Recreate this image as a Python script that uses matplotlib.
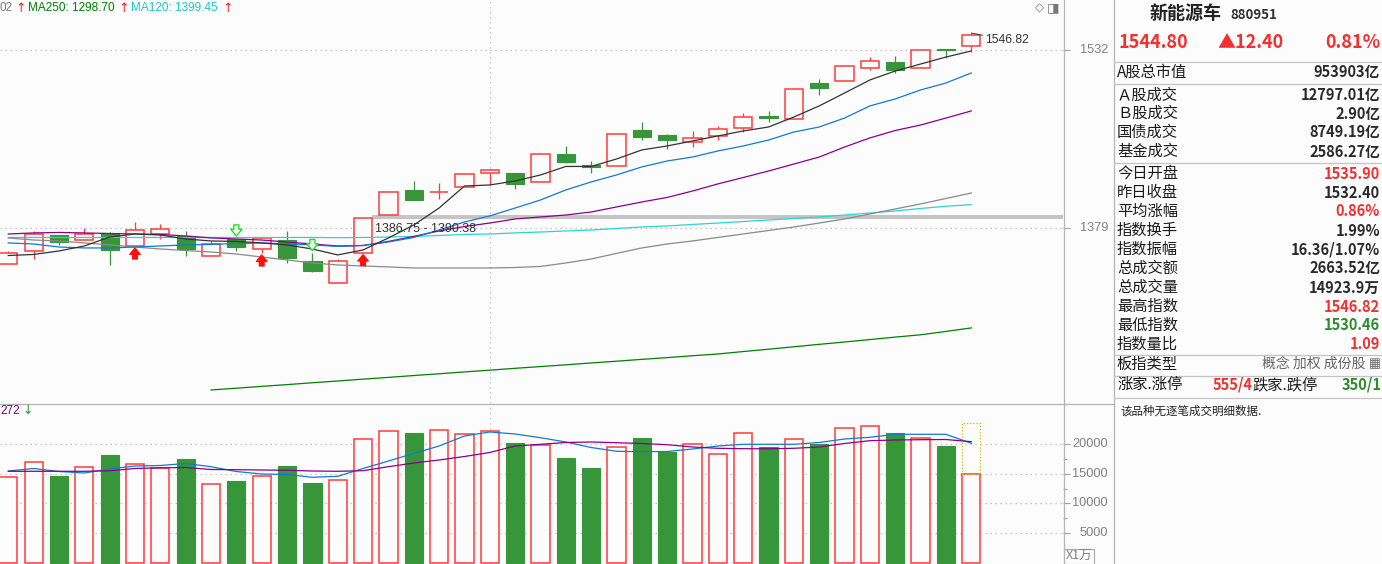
import matplotlib
matplotlib.use('Agg')
import matplotlib.pyplot as plt
import matplotlib.transforms as mtrans
from matplotlib.lines import Line2D
from matplotlib.patches import Rectangle
import numpy as np

plt.rcParams['font.family'] = ['Liberation Sans', 'DejaVu Sans']
CJK = ['Noto Sans CJK SC', 'DejaVu Sans']

# ---------------- data ----------------
opens = [1348.0, 1359.9, 1373.3, 1369.3, 1374.7, 1363.9, 1374.1, 1372.8, 1355.3, 1369.6,
         1361.3, 1368.8, 1350.8, 1332.0, 1358.2, 1390.7, 1412.3, 1410.3, 1414.6, 1426.6,
         1426.3, 1418.9, 1443.1, 1433.5, 1432.6, 1463.6, 1459.4, 1453.1, 1458.2, 1465.1,
         1475.6, 1473.3, 1503.8, 1505.2, 1517.2, 1521.7, 1516.9, 1533.3, 1535.90]
highs = [1359.4, 1376.4, 1373.6, 1379.6, 1375.9, 1384.4, 1382.4, 1376.4, 1368.5, 1370.0,
         1370.7, 1376.4, 1357.5, 1353.0, 1387.6, 1410.6, 1420.0, 1417.7, 1425.8, 1430.0,
         1426.3, 1444.0, 1449.9, 1437.1, 1459.9, 1470.5, 1460.5, 1462.8, 1466.8, 1478.2,
         1479.9, 1498.4, 1507.0, 1518.1, 1526.0, 1527.1, 1532.6, 1533.3, 1546.82]
lows = [1348.0, 1352.3, 1365.1, 1369.3, 1347.4, 1363.9, 1369.9, 1355.3, 1355.3, 1359.6,
        1357.9, 1349.3, 1341.7, 1332.0, 1358.2, 1390.7, 1403.2, 1404.1, 1414.6, 1416.6,
        1412.6, 1418.9, 1434.8, 1426.8, 1432.6, 1454.8, 1447.6, 1448.5, 1455.3, 1462.2,
        1470.7, 1473.3, 1493.3, 1505.2, 1515.2, 1512.3, 1516.9, 1525.4, 1530.46]
closes = [1358.2, 1373.9, 1367.0, 1373.9, 1360.8, 1377.9, 1378.8, 1361.3, 1365.9, 1362.8,
          1370.7, 1353.6, 1342.5, 1350.8, 1387.6, 1410.6, 1403.2, 1410.6, 1425.8, 1429.2,
          1417.5, 1442.9, 1435.7, 1431.7, 1459.9, 1457.9, 1455.3, 1456.8, 1464.2, 1474.5,
          1474.1, 1498.4, 1499.8, 1518.1, 1523.2, 1515.2, 1532.6, 1532.40, 1544.80]

ma5 = [1355.7, 1356.6, 1359.6, 1363.9, 1371.6, 1374.2, 1373.3, 1369.9, 1368.2, 1367.8,
       1366.5, 1364.8, 1361.3, 1356.2, 1360.5, 1370.8, 1381.9, 1396.5, 1415.4, 1416.3,
       1419.7, 1424.9, 1432.2, 1432.2, 1438.6, 1446.4, 1449.8, 1454.1, 1458.4, 1462.7,
       1466.1, 1474.7, 1484.2, 1495.3, 1506.5, 1514.2, 1520.2, 1526.2, 1531.4]
ma10 = [1366.5, 1365.6, 1363.0, 1362.2, 1362.2, 1363.0, 1363.9, 1364.8, 1365.2, 1366.0,
        1366.5, 1365.6, 1364.8, 1363.5, 1364.3, 1367.3, 1371.2, 1377.6, 1384.5, 1389.7,
        1396.5, 1403.4, 1412.0, 1418.9, 1424.9, 1431.8, 1436.9, 1440.3, 1445.5, 1449.8,
        1454.9, 1461.8, 1466.1, 1473.8, 1484.2, 1490.2, 1497.9, 1503.9, 1512.5]
ma20 = [1374.2, 1375.1, 1375.5, 1375.1, 1374.6, 1374.2, 1373.8, 1372.5, 1370.8, 1369.9,
        1369.0, 1367.3, 1365.6, 1363.9, 1364.3, 1367.8, 1372.1, 1376.8, 1380.6, 1383.6,
        1387.1, 1388.8, 1390.5, 1393.1, 1397.4, 1401.7, 1405.6, 1411.1, 1417.2, 1422.7,
        1428.3, 1434.3, 1440.3, 1448.9, 1456.7, 1463.1, 1467.8, 1473.8, 1479.9]
ma60 = [1370.8, 1369.0, 1368.2, 1366.5, 1364.8, 1363.0, 1361.3, 1360.0, 1358.7, 1357.0,
        1354.4, 1351.9, 1349.3, 1347.6, 1346.7, 1345.9, 1345.0, 1345.0, 1345.0, 1345.0,
        1345.4, 1346.3, 1349.3, 1352.7, 1357.5, 1362.2, 1365.6, 1368.2, 1371.2, 1374.2,
        1377.2, 1380.2, 1383.6, 1387.1, 1391.4, 1395.7, 1400.0, 1404.7, 1409.4]
ma120 = [1371.2, 1371.2, 1371.2, 1371.2, 1371.2, 1371.2, 1371.2, 1371.2, 1371.2, 1371.2,
         1371.2, 1371.2, 1371.2, 1371.0, 1371.2, 1371.6, 1372.1, 1372.9, 1373.8, 1374.2,
         1375.1, 1375.9, 1376.8, 1377.6, 1378.9, 1380.2, 1381.1, 1382.4, 1383.6, 1384.9,
         1386.2, 1387.5, 1388.8, 1390.5, 1392.2, 1394.0, 1396.1, 1398.0, 1399.45]
ma250_start = 8
ma250 = [1240.2, 1241.7, 1243.3, 1244.8, 1246.4, 1247.9, 1249.5, 1251.0, 1252.6, 1254.1,
         1255.7, 1257.2, 1258.8, 1260.3, 1261.8, 1263.4, 1264.9, 1266.5, 1268.0, 1269.6,
         1271.1, 1273.2, 1275.2, 1277.3, 1279.4, 1281.4, 1283.5, 1285.6, 1287.6, 1290.5,
         1293.5]

volumes = [14390, 16917, 14609, 16075, 18147, 16580, 15957, 17473, 13210, 13766,
           14558, 16294, 13429, 13884, 20793, 22141, 21854, 22309, 21635, 22141,
           20169, 19832, 17642, 15957, 19445, 21012, 18602, 19950, 18265, 21804,
           19546, 20793, 20001, 22646, 22983, 21854, 21012, 19664, 14924]
vol_projected = 23490
vol_ma5 = [15451, 15873, 15367, 15114, 15788, 16294, 16378, 16715, 16176, 15367,
           14946, 14862, 14390, 14558, 15873, 17136, 18400, 19664, 21349, 22023,
           21686, 21063, 20338, 19411, 18771, 18704, 18737, 19158, 19664, 19950,
           19950, 19950, 20254, 20843, 21130, 21635, 21635, 21635, 20119]
vol_ma10 = [15401, 15401, 15401, 15401, 15485, 15873, 15991, 16041, 15704, 15671,
            15620, 15569, 15451, 15401, 15502, 16176, 16799, 17305, 17895, 18569,
            19664, 19950, 20254, 20338, 20220, 20085, 19883, 19495, 19276, 19209,
            19192, 19276, 19495, 20085, 20557, 20675, 20726, 20759, 20389]

buy_signals = [5, 10, 14]
sell_signals = [9, 12]
cursor_index = 19
zone_low, zone_high, zone_start = 1386.75, 1390.38, 14

price_ticks = [1532, 1379]
vol_ticks = [20000, 15000, 10000, 5000]
vol_minor = [17500, 12500, 7500]

panel_name, panel_code = '新能源车', '880951'
panel_price, panel_change, panel_pct = '1544.80', '▲12.40', '0.81%'
panel_labels = ['A股总市值', 'Ａ股成交', 'Ｂ股成交', '国债成交', '基金成交',
                '今日开盘', '昨日收盘', '平均涨幅', '指数换手', '指数振幅',
                '总成交额', '总成交量', '最高指数', '最低指数', '指数量比']
panel_values = ['953903亿', '12797.01亿', '2.90亿', '8749.19亿', '2586.27亿',
                '1535.90', '1532.40', '0.86%', '1.99%', '16.36/1.07%',
                '2663.52亿', '14923.9万', '1546.82', '1530.46', '1.09']
panel_kinds = ['n', 'n', 'n', 'n', 'n', 'r', 'n', 'r', 'n', 'n', 'n', 'n', 'r', 'g', 'r']

# ---------------- style ----------------
W, H = 1382, 564
BG = '#fcfcfc'
RED = '#ff3b3b'
GREEN = '#37963a'
TXT = '#2a2a2a'
GRID = '#b8b8b8'
BORDER = '#b4b4b4'
kind_color = {'n': TXT, 'r': '#f23030', 'g': '#2e8b2e'}

fig = plt.figure(figsize=(W / 100, H / 100), dpi=100)
fig.patch.set_facecolor(BG)

def fx(px):
    return px / W

def fy(py):
    return 1 - py / H

SEP = 403
XR = 1063
ax = fig.add_axes([0, fy(SEP), fx(XR), SEP / H])
axv = fig.add_axes([0, 0, fx(XR), (H - SEP) / H])
for a in (ax, axv):
    a.set_facecolor(BG)
    for s in a.spines.values():
        s.set_visible(False)
    a.set_xticks([])

n = len(closes)
x = np.arange(n)
o = np.array(opens); c = np.array(closes); hi = np.array(highs); lo = np.array(lows)
up = c >= o
xmin, xmax = -0.3276, 41.62
ax.set_xlim(xmin, xmax)
axv.set_xlim(xmin, xmax)
ax.set_ylim(1229.0, 1575.2)
axv.set_ylim(-219, 26909)

# grid
for v in price_ticks:
    ax.axhline(v, color=GRID, lw=0.9, ls=(0, (1, 3)), zorder=1)
for v in vol_ticks:
    axv.axhline(v, color=GRID, lw=0.9, ls=(0, (1, 3)), zorder=1)
ax.axvline(cursor_index, color=GRID, lw=0.9, ls=(0, (1, 3)), zorder=1)
axv.axvline(cursor_index, color=GRID, lw=0.9, ls=(0, (1, 3)), zorder=1)

# zone band
zx = (zone_start + 0.36 - xmin) / (xmax - xmin)
ax.axhspan(zone_low, zone_high, xmin=zx, xmax=1, color='#c4c4c4', lw=0, zorder=2)
ax.annotate(f'{zone_low:.2f} - {zone_high:.2f}', xy=(zone_start + 0.36, zone_low),
            xytext=(3, -10), textcoords='offset pixels', ha='left', va='center',
            fontsize=9, color='#333333', zorder=6)

# candles
body_lo = np.minimum(o, c)
body_hi = np.maximum(o, c)
hgt = np.maximum(body_hi - body_lo, 0.3)
cols = np.where(up, RED, GREEN)
ax.vlines(x, body_hi, hi, color=cols, lw=0.9, zorder=3)
ax.vlines(x, lo, body_lo, color=cols, lw=0.9, zorder=3)
ax.bar(x[up], hgt[up], bottom=body_lo[up], width=0.72, facecolor=BG,
       edgecolor=RED, lw=1.1, zorder=3)
ax.bar(x[~up], hgt[~up], bottom=body_lo[~up], width=0.72, facecolor=GREEN,
       edgecolor=GREEN, lw=0.8, zorder=3)

# moving averages
ax.plot(x, ma120, color='#2ad4d4', lw=0.9, zorder=4)
ax.plot(x, ma60, color='#8a8a8a', lw=0.9, zorder=4)
ax.plot(x[ma250_start:], ma250, color='#008000', lw=0.9, zorder=4)
ax.plot(x, ma20, color='#8b008b', lw=0.9, zorder=4)
ax.plot(x, ma10, color='#1479d0', lw=0.9, zorder=4)
ax.plot(x, ma5, color='#333333', lw=0.9, zorder=4)

# signals
arrow_style = 'simple,head_length=0.38,head_width=0.62,tail_width=0.28'
for i in buy_signals:
    ax.annotate('', xy=(i, lo[i]), xytext=(0, -13), textcoords='offset pixels',
                arrowprops=dict(arrowstyle=arrow_style, mutation_scale=12,
                                color='#ff1010', shrinkA=0, shrinkB=1.5),
                zorder=5)
for i in sell_signals:
    ax.annotate('', xy=(i, hi[i]), xytext=(0, 14), textcoords='offset pixels',
                arrowprops=dict(arrowstyle=arrow_style, mutation_scale=13,
                                facecolor=BG, edgecolor='#22e022', lw=1.0,
                                shrinkA=0, shrinkB=2),
                zorder=5)

# high label
ax.annotate(f'{highs[-1]:.2f}', xy=(n - 1, highs[-1]), xytext=(14, -7),
            textcoords='offset pixels', ha='left', va='center', fontsize=8.8,
            color='#333333', zorder=6,
            arrowprops=dict(arrowstyle='-', color='#333333', lw=0.7, shrinkA=0, shrinkB=0))

# price axis ticks/labels
ax.yaxis.tick_right()
ax.set_yticks(price_ticks)
ax.tick_params(axis='y', direction='out', length=5, width=0.8, color='#a0a0a0',
               labelright=False)
tr = mtrans.blended_transform_factory(ax.transAxes, ax.transData)
for v in price_ticks:
    ax.text(1108 / XR, v, f'{v}', transform=tr, ha='right', va='center',
            fontsize=9.2, color='#808080', clip_on=False)

# legend row
legend_items = [('02', '#808080', 0), ('MA250: 1298.70', '#008000', 28),
                ('MA120: 1399.45', '#20c8c8', 131)]
arrow_pos = [15, 118, 222]
for (t, col, px), apx in zip(legend_items, arrow_pos):
    fig.text(fx(px), fy(8), t, color=col, fontsize=8.5, va='center', ha='left')
    fig.text(fx(apx), fy(8), '↑', color='#ff2020', fontsize=9, va='center', ha='left',
             family=['DejaVu Sans'])
fig.text(fx(1035), fy(8), '◇', color='#777777', fontsize=8.5, va='center', ha='left',
         family=['DejaVu Sans'])
fig.text(fx(1047), fy(8), '◨', color='#777777', fontsize=9.5, va='center', ha='left',
         family=['DejaVu Sans'])

# volume
vol = np.array(volumes)
axv.bar(x[up], vol[up], width=0.72, facecolor=BG, edgecolor=RED, lw=1.1, zorder=3)
axv.bar(x[~up], vol[~up], width=0.72, facecolor=GREEN, edgecolor=GREEN, lw=0.8, zorder=3)
axv.bar(n - 1, vol_projected - vol[-1], bottom=vol[-1], width=0.72, fill=False,
        edgecolor='#c8c000', ls=(0, (1, 1.5)), lw=0.9, zorder=3)
axv.plot(x, vol_ma5, color='#1479d0', lw=0.9, zorder=4)
axv.plot(x, vol_ma10, color='#8b008b', lw=0.9, zorder=4)
axv.yaxis.tick_right()
axv.set_yticks(vol_ticks)
axv.set_yticks(vol_minor, minor=True)
axv.tick_params(axis='y', which='major', direction='out', length=5, width=0.8,
                color='#a0a0a0', labelright=False)
axv.tick_params(axis='y', which='minor', direction='out', length=3, width=0.8,
                color='#a0a0a0', labelright=False)
trv = mtrans.blended_transform_factory(axv.transAxes, axv.transData)
for v in vol_ticks:
    axv.text(1108 / XR, v, f'{v}', transform=trv, ha='right', va='center',
             fontsize=9.2, color='#808080', clip_on=False)
fig.add_artist(Rectangle((fx(1064), fy(564)), fx(30), 15 / H, fill=False,
                         ec='#a8a8a8', lw=0.8, transform=fig.transFigure))
fig.text(fx(1066), fy(556.5), 'X1万', ha='left', va='center', fontsize=9,
         color='#808080', family=CJK)
fig.text(fx(0), fy(411), '272', color='#800080', fontsize=8.5, va='center', ha='left')
fig.text(fx(22), fy(411), '↓', color='#2e9a2e', fontsize=9, va='center', ha='left',
         family=['DejaVu Sans'])

# frame lines
def fline(x0, y0, x1, y1, col=BORDER, lw=0.9):
    fig.add_artist(Line2D([fx(x0), fx(x1)], [fy(y0), fy(y1)], color=col, lw=lw))

fline(XR + 0.5, 0, XR + 0.5, H)
fline(1113.5, 0, 1113.5, H)
fline(0, SEP + 0.5, 1113.5, SEP + 0.5)
for yy in [61.5, 83.5, 162.5, 354.5, 375.5, 397.5]:
    fline(1114, yy, W, yy, col='#c4c4c4')

# right panel
fig.text(fx(1150), fy(13), panel_name, fontsize=13, fontweight='bold', color='#222222',
         family=CJK, va='center', ha='left')
fig.text(fx(1230), fy(15), panel_code, fontsize=9.5, fontweight='bold', color='#333333',
         family=CJK, va='center', ha='left')
fig.text(fx(1118), fy(42), panel_price, fontsize=13, fontweight='bold', color='#f23030',
         family=CJK, va='center', ha='left')
fig.text(fx(1217), fy(42), panel_change, fontsize=13, fontweight='bold', color='#f23030',
         family=CJK, va='center', ha='left')
fig.text(fx(1380), fy(42), panel_pct, fontsize=13, fontweight='bold', color='#f23030',
         family=CJK, va='center', ha='right')

row_y = [72, 95, 113.5, 132.5, 151.5, 173.5, 192.5, 211.5, 230.5, 249.5,
         268.5, 287.5, 306.5, 325, 344]
for lab, val, kind, yy in zip(panel_labels, panel_values, panel_kinds, row_y):
    fig.text(fx(1117), fy(yy), lab, fontsize=11, color='#1a1a1a', family=CJK,
             va='center', ha='left')
    fig.text(fx(1380), fy(yy), val, fontsize=10.5, fontweight='bold',
             color=kind_color[kind], family=CJK, va='center', ha='right')

fig.text(fx(1117), fy(364), '板指类型', fontsize=11, color='#1a1a1a', family=CJK,
         va='center', ha='left')
fig.text(fx(1365), fy(364), '概念 加权 成份股', fontsize=10, color='#666666', family=CJK,
         va='center', ha='right')
fig.text(fx(1381), fy(364), '▦', fontsize=9, color='#666666', family=['DejaVu Sans'],
         va='center', ha='right')
fig.text(fx(1117), fy(384.5), '涨家.涨停', fontsize=11, color='#1a1a1a', family=CJK,
         va='center', ha='left')
fig.text(fx(1213), fy(384.5), '555/4', fontsize=10.5, fontweight='bold', color='#f23030',
         family=CJK, va='center', ha='left')
fig.text(fx(1252), fy(384.5), '跌家.跌停', fontsize=11, color='#1a1a1a', family=CJK,
         va='center', ha='left')
fig.text(fx(1382), fy(384.5), '350/1', fontsize=10.5, fontweight='bold', color='#2e8b2e',
         family=CJK, va='center', ha='right')
fig.text(fx(1120), fy(411), '该品种无逐笔成交明细数据.', fontsize=8.3, color='#222222',
         family=CJK, va='center', ha='left')

fig.savefig('out.png', dpi=100, facecolor=BG)
